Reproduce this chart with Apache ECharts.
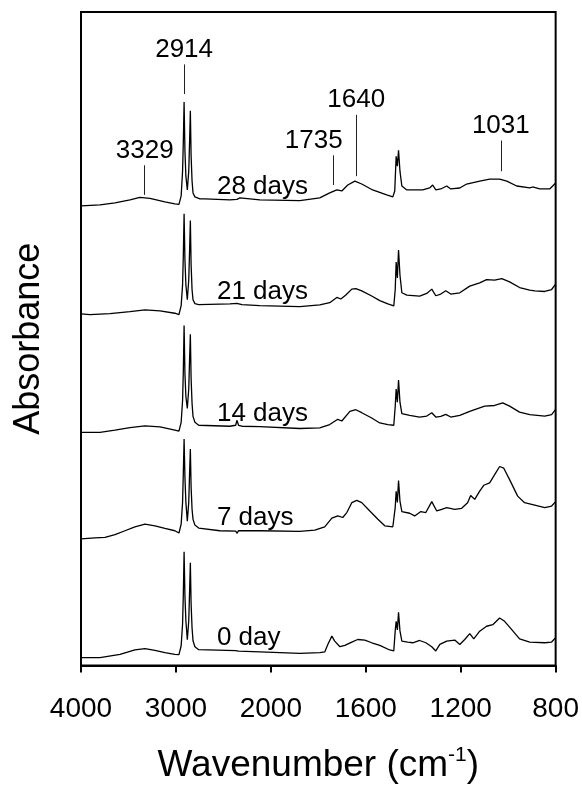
<!DOCTYPE html>
<html>
<head>
<meta charset="utf-8">
<script src="https://cdn.jsdelivr.net/npm/echarts@6/dist/echarts.min.js"></script>
<style>
  html, body { margin: 0; padding: 0; background: #fff; }
  #chart { width: 582px; height: 789px; }
</style>
</head>
<body>
<div id="chart"></div>
<script>
// tick values of the broken wavenumber axis (equal spacing between ticks)
const xTicks = [4000, 3000, 2000, 1600, 1200, 800];
const xTickLabels = ['4000', '3000', '2000', '1600', '1200', '800'];

const dayLabels = ['28 days', '21 days', '14 days', '7 days', '0 day'];

// [wavenumber, absorbance (offset, a.u.)]
const spectrum28 = [
  [4000, 465], [3800, 466], [3642, 468], [3484, 471], [3379, 473.5], [3274, 472.5], [3116, 469],
  [3011, 467], [2968, 466.5], [2945, 475], [2930, 500], [2922, 530], [2914, 570], [2905, 520],
  [2895, 495], [2880, 481], [2865, 500], [2856, 530], [2848, 561], [2840, 515], [2830, 490],
  [2820, 478], [2800, 474], [2780, 473], [2747, 472], [2695, 472], [2432, 471], [2358, 471.5],
  [2326, 473], [2305, 471], [2116, 471], [1878, 470.3], [1794, 473], [1752, 478], [1722, 481],
  [1701, 480], [1676, 486], [1646, 490], [1617, 487], [1571, 481], [1512, 476], [1486, 474],
  [1478, 480], [1472, 515], [1467, 505], [1462, 521], [1456, 500], [1448, 485], [1427, 481],
  [1360, 481], [1331, 483], [1318, 486], [1305, 481], [1284, 482], [1259, 485], [1242, 482],
  [1204, 483], [1175, 487], [1120, 490], [1078, 492], [1036, 492], [1006, 490], [964, 485],
  [909, 483], [897, 484], [867, 482], [825, 482], [800, 488]
];

const spectrum21 = [
  [4000, 355.7], [3905, 355], [3695, 356], [3484, 358], [3326, 359.7], [3168, 358.7], [3011, 356.3],
  [2968, 355], [2945, 364], [2930, 385], [2922, 415], [2914, 457], [2905, 410], [2895, 385],
  [2880, 370], [2865, 390], [2856, 420], [2848, 450], [2840, 405], [2830, 380], [2820, 370],
  [2800, 366], [2760, 365], [2747, 364.7], [2432, 365.7], [2358, 366.3], [2305, 365], [2116, 364],
  [1878, 363], [1794, 364.7], [1752, 367], [1722, 372.3], [1705, 370.7], [1684, 374.7], [1659, 380.7],
  [1642, 381.3], [1617, 379], [1575, 373.7], [1541, 369], [1507, 365.7], [1482, 363.7], [1476, 380],
  [1472, 408], [1467, 392], [1462, 420.3], [1456, 395], [1448, 377], [1427, 374.7], [1373, 373.7],
  [1343, 376.3], [1322, 380.7], [1305, 374], [1284, 375.7], [1263, 379], [1242, 375.7], [1204, 377],
  [1162, 383.7], [1120, 387], [1091, 390.3], [1057, 389.7], [1027, 391.3], [994, 388], [952, 382.3],
  [909, 379.7], [888, 379], [846, 378.3], [817, 380.3], [800, 385.7]
];

const spectrum14 = [
  [4000, 235.7], [3800, 235.7], [3642, 238], [3484, 240.7], [3326, 242.3], [3168, 241.3], [3011, 238],
  [2968, 237], [2945, 246], [2930, 268], [2922, 298], [2914, 344], [2905, 295], [2895, 272],
  [2880, 260], [2865, 280], [2856, 310], [2848, 335], [2840, 290], [2830, 265], [2820, 252],
  [2800, 246], [2760, 243], [2747, 242.3], [2432, 242], [2370, 243], [2358, 248], [2340, 243],
  [2305, 242], [2116, 241.7], [1878, 239.7], [1794, 240.3], [1752, 243.7], [1718, 249], [1701, 247.3],
  [1667, 257], [1642, 258.7], [1617, 255.7], [1575, 250.3], [1541, 245.3], [1507, 243.7], [1482, 243],
  [1476, 262], [1472, 279.7], [1467, 266.3], [1462, 288.7], [1456, 266.3], [1448, 254.7], [1415, 253],
  [1373, 251.3], [1343, 252.3], [1322, 255.7], [1305, 251.3], [1284, 252], [1263, 254], [1242, 251.3],
  [1204, 253], [1162, 257], [1099, 262.3], [1057, 263], [1023, 265.7], [994, 262.3], [952, 256.3],
  [909, 253.7], [846, 252.3], [817, 253.7], [800, 259]
];

const spectrum7 = [
  [4000, 128], [3853, 129], [3747, 129.5], [3642, 132.3], [3537, 136.3], [3432, 140.3], [3326, 143],
  [3221, 141.3], [3116, 138.7], [3011, 136.3], [2968, 134], [2945, 143], [2930, 165], [2922, 195],
  [2914, 229], [2905, 190], [2895, 165], [2880, 146], [2865, 165], [2856, 195], [2848, 219],
  [2840, 180], [2830, 158], [2820, 148], [2800, 142], [2760, 139], [2747, 138], [2537, 136.3],
  [2370, 136], [2358, 133.7], [2340, 136.5], [2326, 136.5], [2116, 136.3], [1878, 135.7], [1815, 137],
  [1773, 140.3], [1743, 149], [1718, 151.3], [1697, 149.7], [1680, 154.7], [1659, 164.7], [1638, 167],
  [1617, 164.7], [1583, 156.3], [1549, 148], [1520, 141.3], [1486, 140.3], [1476, 160], [1472, 176.3],
  [1467, 165], [1462, 187], [1456, 166.3], [1448, 155.7], [1415, 154], [1394, 151.3], [1368, 155.7],
  [1347, 154.7], [1322, 165.7], [1301, 156.3], [1280, 158], [1259, 159.7], [1225, 158], [1196, 159],
  [1171, 164.7], [1158, 172], [1141, 168], [1120, 176.3], [1103, 182.3], [1078, 184.7], [1057, 193],
  [1036, 201.3], [1019, 199.7], [994, 188], [960, 171.3], [931, 164.7], [888, 162.3], [846, 159.7],
  [817, 161.3], [800, 165.7]
];

const spectrum0 = [
  [4000, 8], [3800, 8], [3589, 11.3], [3432, 15.7], [3326, 17], [3221, 15.3], [3116, 13],
  [3011, 11.3], [2968, 11], [2945, 20], [2930, 42], [2922, 72], [2914, 115], [2905, 70],
  [2895, 45], [2880, 26], [2865, 45], [2856, 75], [2848, 104], [2840, 62], [2830, 38],
  [2820, 25], [2800, 19], [2760, 16], [2747, 14.7], [2370, 15], [2358, 16], [2340, 14.5],
  [2116, 13.7], [1878, 12.3], [1794, 13], [1773, 13.7], [1760, 21.3], [1743, 29.7], [1731, 24.7],
  [1709, 19], [1688, 20.3], [1659, 23.7], [1634, 26.3], [1604, 25.7], [1575, 23], [1541, 20.3],
  [1499, 15.7], [1482, 14.7], [1476, 35], [1472, 44.7], [1467, 36], [1462, 53.7], [1456, 35],
  [1448, 24.7], [1423, 23.7], [1402, 23], [1373, 25.3], [1347, 23], [1322, 19], [1305, 14.7],
  [1288, 21.3], [1259, 24.7], [1225, 25.7], [1204, 21.3], [1183, 26.3], [1162, 32.3], [1145, 27],
  [1120, 34.7], [1091, 39.7], [1065, 41.3], [1036, 48], [1015, 44.7], [985, 36.3], [952, 27],
  [909, 23.7], [846, 23], [817, 23.7], [800, 28]
];

const spectra = [spectrum28, spectrum21, spectrum14, spectrum7, spectrum0];

// peak assignments marked on the 28 days spectrum
const peakMarks = [3329, 2914, 1735, 1640, 1031];
const peakLineFrom = [476, 578, 486, 495, 500];
const peakLineTo = [506, 608, 516, 557, 531];

const FONT = 'Liberation Sans, Arial, sans-serif';
const LABEL_WN = 2568;

// map wavenumber onto the broken axis: each tick interval has the same width
function toAxis(w) {
  for (let i = 0; i < xTicks.length - 1; i++) {
    if (w >= xTicks[i + 1] || i === xTicks.length - 2) {
      return i + (xTicks[i] - w) / (xTicks[i] - xTicks[i + 1]);
    }
  }
  return 0;
}

function valueAt(spec, w) {
  for (let i = 0; i < spec.length - 1; i++) {
    const [w1, a1] = spec[i];
    const [w2, a2] = spec[i + 1];
    if (w <= w1 && w >= w2) {
      return a1 + (a2 - a1) * (w1 - w) / (w1 - w2);
    }
  }
  return spec[spec.length - 1][1];
}

const chart = echarts.init(document.getElementById('chart'));

const lineSeries = spectra.map((spec, i) => ({
  name: dayLabels[i],
  type: 'line',
  data: spec.map(([w, a]) => [toAxis(w), a]),
  showSymbol: false,
  symbol: 'none',
  smooth: false,
  lineStyle: { color: '#000', width: 1.3 },
  markLine: i === 0 ? {
    silent: true,
    symbol: ['none', 'none'],
    label: { show: false },
    lineStyle: { color: '#222', width: 1, type: 'solid' },
    data: peakMarks.map((w, k) => [
      { coord: [toAxis(w), peakLineFrom[k]] },
      { coord: [toAxis(w), peakLineTo[k]] },
    ]),
  } : undefined,
}));

const dayLabelSeries = {
  type: 'scatter',
  silent: true,
  symbolSize: 1,
  itemStyle: { color: 'transparent', opacity: 1 },
  data: spectra.map((spec, i) => ({
    value: [toAxis(LABEL_WN), valueAt(spec, LABEL_WN)],
    name: dayLabels[i],
  })),
  label: {
    show: true,
    position: 'top',
    align: 'left',
    distance: -1,
    formatter: '{b}',
    color: '#000',
    fontFamily: FONT,
    fontSize: 26,
  },
};

const peakLabelSeries = {
  type: 'scatter',
  silent: true,
  symbolSize: 1,
  itemStyle: { color: 'transparent', opacity: 1 },
  data: peakMarks.map((w, k) => ({
    value: [toAxis(w), peakLineTo[k]],
    name: String(w),
    label: w === 1735 ? { offset: [-20, 0] } : undefined,
  })),
  label: {
    show: true,
    position: 'top',
    distance: 1,
    formatter: '{b}',
    color: '#000',
    fontFamily: FONT,
    fontSize: 26,
  },
};

chart.setOption({
  animation: false,
  backgroundColor: '#fff',
  grid: {
    left: 81,
    right: 26,
    top: 12,
    bottom: 116,
    show: true,
    borderColor: '#000',
    borderWidth: 2,
  },
  xAxis: {
    type: 'value',
    min: 0,
    max: xTicks.length - 1,
    interval: 1,
    name: '{a|Wavenumber (cm}{b|-1}{a|)}',
    nameLocation: 'middle',
    nameGap: 79,
    nameTextStyle: {
      rich: {
        a: { fontFamily: FONT, fontSize: 37, color: '#000', lineHeight: 42 },
        b: { fontFamily: FONT, fontSize: 21, color: '#000', lineHeight: 22, verticalAlign: 'top' },
      },
    },
    axisLine: { show: true, lineStyle: { color: '#000', width: 2 } },
    axisTick: { show: true, inside: false, length: 7, lineStyle: { color: '#000', width: 2 } },
    axisLabel: {
      margin: 30,
      color: '#000',
      fontFamily: FONT,
      fontSize: 28,
      formatter: (v) => xTickLabels[Math.round(v)],
    },
    splitLine: { show: false },
  },
  yAxis: {
    type: 'value',
    min: 0,
    max: 661,
    name: 'Absorbance',
    nameLocation: 'middle',
    nameGap: 34,
    nameTextStyle: { fontFamily: FONT, fontSize: 36, color: '#000' },
    axisLine: { show: true, lineStyle: { color: '#000', width: 2 } },
    axisTick: { show: false },
    axisLabel: { show: false },
    splitLine: { show: false },
  },
  series: [...lineSeries, dayLabelSeries, peakLabelSeries],
});

window.addEventListener('resize', () => {
  chart.resize();
});
</script>
</body>
</html>
